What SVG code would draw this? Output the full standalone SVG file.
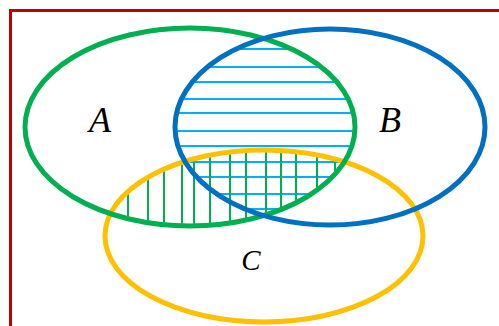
<svg xmlns="http://www.w3.org/2000/svg" width="499" height="326" viewBox="0 0 499 326">
<style>
.frame{fill:none;stroke:#C00000;stroke-width:3}
.set{fill:none;stroke-width:5}
.hb{stroke:#00B0F0;stroke-width:2}
.hg{stroke:#00B050;stroke-width:2}
.lbl{font-family:"Liberation Serif",serif;font-style:italic;fill:#000;text-anchor:middle}
</style>
<defs>
<clipPath id="clipA"><ellipse cx="190" cy="127" rx="163" ry="97"/></clipPath>
<clipPath id="clipAB" clip-path="url(#clipA)"><ellipse cx="330" cy="127" rx="153" ry="96"/></clipPath>
<clipPath id="clipAC" clip-path="url(#clipA)"><ellipse cx="264" cy="236" rx="157" ry="84"/></clipPath>
</defs>
<rect class="frame" x="10.5" y="10.5" width="520" height="340"/>
<g id="hatch-AB" clip-path="url(#clipAB)">
<line class="hb" x1="150" y1="49" x2="380" y2="49"/>
<line class="hb" x1="150" y1="67" x2="380" y2="67"/>
<line class="hb" x1="150" y1="82" x2="380" y2="82"/>
<line class="hb" x1="150" y1="99" x2="380" y2="99"/>
<line class="hb" x1="150" y1="113" x2="380" y2="113"/>
<line class="hb" x1="150" y1="131" x2="380" y2="131"/>
<line class="hb" x1="150" y1="146" x2="380" y2="146"/>
<line class="hb" x1="150" y1="162" x2="380" y2="162"/>
<line class="hb" x1="150" y1="177" x2="380" y2="177"/>
<line class="hb" x1="150" y1="194" x2="380" y2="194"/>
<line class="hb" x1="150" y1="209" x2="380" y2="209"/>
</g>
<g id="hatch-AC" clip-path="url(#clipAC)">
<line class="hg" x1="128" y1="140" x2="128" y2="240"/>
<line class="hg" x1="148" y1="140" x2="148" y2="240"/>
<line class="hg" x1="164" y1="140" x2="164" y2="240"/>
<line class="hg" x1="182" y1="140" x2="182" y2="240"/>
<line class="hg" x1="194" y1="140" x2="194" y2="240"/>
<line class="hg" x1="210" y1="140" x2="210" y2="240"/>
<line class="hg" x1="230" y1="140" x2="230" y2="240"/>
<line class="hg" x1="246" y1="140" x2="246" y2="240"/>
<line class="hg" x1="266" y1="140" x2="266" y2="240"/>
<line class="hg" x1="281" y1="140" x2="281" y2="240"/>
<line class="hg" x1="296" y1="140" x2="296" y2="240"/>
<line class="hg" x1="317" y1="140" x2="317" y2="240"/>
<line class="hg" x1="335" y1="140" x2="335" y2="240"/>
</g>
<g id="setC"><ellipse class="set" cx="264" cy="236" rx="159" ry="86" stroke="#FFC000"/><text class="lbl" x="251" y="270" font-size="29">C</text></g>
<g id="setA"><ellipse class="set" cx="190" cy="127" rx="165" ry="99" stroke="#00B050"/><text class="lbl" x="100" y="132" font-size="36">A</text></g>
<g id="setB"><ellipse class="set" cx="330" cy="127" rx="155" ry="98" stroke="#0070C0"/><text class="lbl" x="390" y="132" font-size="36">B</text></g>
</svg>
